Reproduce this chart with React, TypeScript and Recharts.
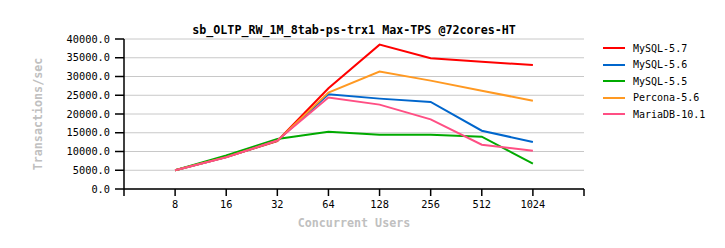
import React from "react";
import {
  LineChart,
  Line,
  XAxis,
  YAxis,
  CartesianGrid,
} from "recharts";

const users = ["8", "16", "32", "64", "128", "256", "512", "1024"];
const mysql57 = [5000, 8500, 12800, 26850, 38500, 34850, 33950, 33050];
const mysql56 = [5000, 8500, 12900, 25250, 24100, 23200, 15550, 12530];
const mysql55 = [5000, 8950, 13330, 15250, 14480, 14480, 13950, 6750];
const percona56 = [5000, 8500, 12900, 25700, 31300, 28900, 26200, 23550];
const mariadb101 = [5000, 8450, 12950, 24400, 22500, 18580, 11820, 10220];
const yTicks = [0, 5000, 10000, 15000, 20000, 25000, 30000, 35000, 40000];

const series = [
  { key: "mysql57", name: "MySQL-5.7", color: "#ff0000", values: mysql57 },
  { key: "mysql56", name: "MySQL-5.6", color: "#0066cc", values: mysql56 },
  { key: "mysql55", name: "MySQL-5.5", color: "#00aa00", values: mysql55 },
  { key: "percona56", name: "Percona-5.6", color: "#ff9922", values: percona56 },
  { key: "mariadb101", name: "MariaDB-10.1", color: "#ff4f84", values: mariadb101 },
];

const data = users.map((u, i) => {
  const row: Record<string, number | string> = { x: i + 1, label: u };
  series.forEach((s) => (row[s.key] = s.values[i]));
  return row;
});

const mono = "'DejaVu Sans Mono', 'Liberation Mono', monospace";

export default function App() {
  return (
    <div style={{ position: "absolute", left: 0, top: 0, width: 725, height: 248, background: "#fff" }}>
      <div
        style={{
          position: "absolute",
          left: 124,
          width: 460,
          top: 23,
          textAlign: "center",
          fontFamily: mono,
          fontWeight: "bold",
          fontSize: 11.7,
          color: "#000",
          whiteSpace: "nowrap",
        }}
      >
        sb_OLTP_RW_1M_8tab-ps-trx1 Max-TPS @72cores-HT
      </div>
      <LineChart
        width={725}
        height={248}
        data={data}
        margin={{ top: 39, right: 141, bottom: 0, left: 0 }}
      >
        <CartesianGrid stroke="#c8c8c8" vertical={false} horizontalValues={yTicks} />
        <XAxis
          dataKey="x"
          type="number"
          domain={[0, 9]}
          ticks={[0, 1, 2, 3, 4, 5, 6, 7, 8, 9]}
          interval={0}
          height={59}
          tickSize={7}
          stroke="#000"
          axisLine={{ stroke: "#000", strokeWidth: 1.5 }}
          tickLine={{ stroke: "#000", strokeWidth: 1.5 }}
          tick={{ fontSize: 10.3, fill: "#000", fontFamily: mono }}
          tickMargin={5}
          tickFormatter={(v: number) => users[v - 1] ?? ""}
          label={{
            content: () => (
              <text
                x={354}
                y={227}
                textAnchor="middle"
                fontFamily={mono}
                fontWeight="bold"
                fontSize={11.7}
                fill="#c0c0c0"
              >
                Concurrent Users
              </text>
            ),
          }}
        />
        <YAxis
          width={124}
          domain={[0, 40000]}
          ticks={yTicks}
          interval={0}
          tickSize={9}
          stroke="#000"
          axisLine={{ stroke: "#000", strokeWidth: 1.5 }}
          tickLine={{ stroke: "#000", strokeWidth: 1.5 }}
          tick={{ fontSize: 10.3, fill: "#000", fontFamily: mono }}
          tickMargin={5}
          tickFormatter={(v: number) => v.toFixed(1)}
          label={{
            content: () => (
              <text
                x={38}
                y={114}
                transform="rotate(-90 38 114)"
                textAnchor="middle"
                dominantBaseline="central"
                fontFamily={mono}
                fontWeight="bold"
                fontSize={11.7}
                fill="#c0c0c0"
              >
                Transactions/sec
              </text>
            ),
          }}
        />
        {series.map((s) => (
          <Line
            key={s.key}
            type="linear"
            dataKey={s.key}
            name={s.name}
            stroke={s.color}
            strokeWidth={2}
            dot={false}
            activeDot={false}
            isAnimationActive={false}
          />
        ))}
      </LineChart>
      <div style={{ position: "absolute", left: 603, top: 40 }}>
        {series.map((s) => (
          <div
            key={s.key}
            style={{ display: "flex", alignItems: "center", height: 16.5 }}
          >
            <span
              style={{ display: "inline-block", width: 22, height: 2, background: s.color }}
            />
            <span
              style={{
                marginLeft: 8,
                fontFamily: mono,
                fontSize: 10,
                color: "#000",
                whiteSpace: "nowrap",
              }}
            >
              {s.name}
            </span>
          </div>
        ))}
      </div>
    </div>
  );
}
